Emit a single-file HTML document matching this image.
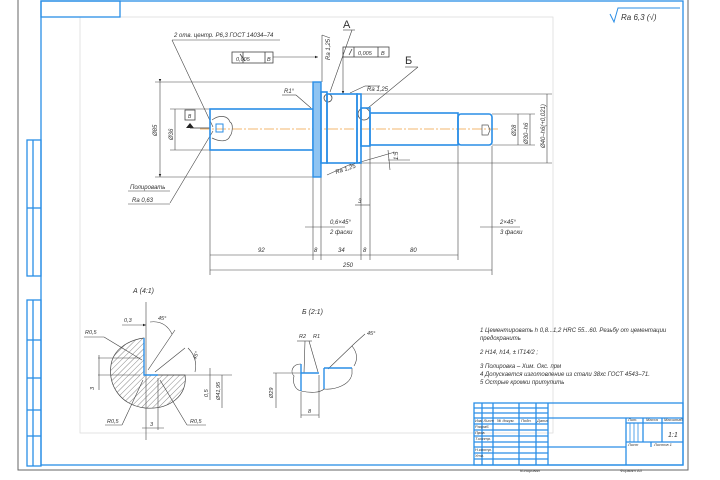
<!DOCTYPE html>
<html><head><meta charset="utf-8"><style>
html,body{margin:0;padding:0;background:#fff;}
svg{display:block;}
text{font-family:"Liberation Sans","DejaVu Sans",sans-serif;font-style:italic;fill:#333;}
</style></head><body>
<svg width="720" height="480" viewBox="0 0 720 480" xmlns="http://www.w3.org/2000/svg">
<defs>
<pattern id="h" width="4" height="4" patternUnits="userSpaceOnUse" patternTransform="rotate(45)">
<line x1="0" y1="0" x2="0" y2="4" stroke="#555" stroke-width="0.7"/></pattern>
<marker id="a" markerWidth="6" markerHeight="6" refX="5" refY="3" orient="auto"><path d="M0,1 L5,3 L0,5 Z" fill="#222"/></marker>
</defs>
<rect width="720" height="480" fill="#fff"/>
<!-- outer frame -->
<rect x="18" y="-2" width="670" height="472" fill="none" stroke="#666" stroke-width="1"/>
<rect x="80" y="17" width="473" height="416" fill="none" stroke="#ddd" stroke-width="0.8"/>
<g stroke="#2a8ee6" fill="none" stroke-width="1.3">
<rect x="41" y="1" width="642" height="464"/>
<rect x="41" y="1" width="79" height="16"/>
<rect x="27" y="140" width="14" height="136"/><line x1="33" y1="140" x2="33" y2="276"/><line x1="27" y1="208" x2="41" y2="208"/>
<rect x="27" y="300" width="14" height="166"/><line x1="33" y1="300" x2="33" y2="466"/>
<line x1="27" y1="340" x2="41" y2="340"/><line x1="27" y1="378" x2="41" y2="378"/><line x1="27" y1="410" x2="41" y2="410"/><line x1="27" y1="436" x2="41" y2="436"/>
<!-- title block -->
<rect x="474" y="403" width="209" height="62"/>
<line x1="482" y1="403" x2="482" y2="465"/><line x1="493" y1="403" x2="493" y2="465"/><line x1="519" y1="403" x2="519" y2="465"/><line x1="536" y1="403" x2="536" y2="465"/><line x1="548" y1="403" x2="548" y2="465"/>
<line x1="474" y1="408" x2="548" y2="408"/><line x1="474" y1="413" x2="548" y2="413"/><line x1="474" y1="418" x2="683" y2="418"/><line x1="474" y1="424" x2="548" y2="424"/><line x1="474" y1="430" x2="548" y2="430"/><line x1="474" y1="436" x2="548" y2="436"/><line x1="474" y1="442" x2="548" y2="442"/><line x1="474" y1="447" x2="626" y2="447"/><line x1="474" y1="453" x2="548" y2="453"/><line x1="474" y1="459" x2="548" y2="459"/>
<line x1="626" y1="418" x2="626" y2="465"/>
<line x1="626" y1="423" x2="683" y2="423"/><line x1="626" y1="442" x2="683" y2="442"/>
<line x1="643" y1="418" x2="643" y2="442"/><line x1="662" y1="418" x2="662" y2="442"/><line x1="651" y1="442" x2="651" y2="447"/>
<line x1="630" y1="423" x2="630" y2="442" stroke-width="0.8"/><line x1="634" y1="423" x2="634" y2="442" stroke-width="0.8"/><line x1="638" y1="423" x2="638" y2="442" stroke-width="0.8"/>
<!-- Ra symbol -->
<path d="M610,14 L614,22 L618,8 L680,8" stroke-width="1"/>
</g>
<text x="621" y="20" font-size="8" fill="#444">Ra 6,3 (√)</text>
<g font-size="4">
<text x="475" y="422">Изм Лист</text><text x="497" y="422">№ докум.</text><text x="521" y="422">Подп.</text><text x="537" y="422">Дата</text>
<text x="475" y="428">Разраб.</text><text x="475" y="434">Пров.</text><text x="475" y="440">Т.контр.</text><text x="475" y="451">Н.контр.</text><text x="475" y="457">Утв.</text>
<text x="628" y="421">Лит.</text><text x="646" y="421">Масса</text><text x="664" y="421">Масштаб</text>
<text x="628" y="446">Лист</text><text x="654" y="446">Листов 1</text>
<text x="520" y="472">Копировал</text><text x="620" y="472">Формат A3</text>
</g>
<text x="668" y="437" font-size="7">1:1</text>

<!-- center line -->
<line x1="200" y1="129" x2="500" y2="129" stroke="#f0a040" stroke-width="0.8" stroke-dasharray="10,2,2,2"/>
<!-- extension / dimension lines -->
<g stroke="#444" stroke-width="0.6" fill="none">
<line x1="155" y1="82" x2="313" y2="82"/><line x1="155" y1="177" x2="313" y2="177"/>
<line x1="170" y1="109" x2="210" y2="109"/><line x1="170" y1="150" x2="210" y2="150"/>
<line x1="160" y1="82" x2="160" y2="177" marker-start="url(#a)" marker-end="url(#a)"/>
<line x1="175" y1="109" x2="175" y2="150"/>
<line x1="361" y1="94" x2="552" y2="94"/><line x1="361" y1="163" x2="552" y2="163"/>
<line x1="492" y1="114" x2="535" y2="114"/><line x1="492" y1="145" x2="535" y2="145"/>
<line x1="518" y1="114" x2="518" y2="145"/><line x1="530" y1="114" x2="530" y2="145"/><line x1="547" y1="94" x2="547" y2="163"/>
<line x1="210" y1="150" x2="210" y2="275"/><line x1="313" y1="177" x2="313" y2="260"/><line x1="321" y1="177" x2="321" y2="260"/>
<line x1="361" y1="163" x2="361" y2="260"/><line x1="370" y1="146" x2="370" y2="260"/><line x1="458" y1="146" x2="458" y2="260"/><line x1="492" y1="146" x2="492" y2="275"/>
<line x1="210" y1="255" x2="458" y2="255"/><line x1="210" y1="270" x2="492" y2="270"/>
<line x1="355" y1="205" x2="370" y2="205"/><line x1="305" y1="227" x2="345" y2="227"/><line x1="480" y1="227" x2="520" y2="227"/>
<!-- leaders -->
<line x1="172" y1="40" x2="280" y2="40"/><line x1="172" y1="40" x2="213" y2="127"/>
<line x1="213" y1="131" x2="170" y2="203"/><line x1="128" y1="191" x2="170" y2="191"/><line x1="128" y1="204" x2="170" y2="204"/>
<line x1="273" y1="57" x2="318" y2="57" marker-end="url(#a)"/>
<line x1="343" y1="52" x2="343" y2="94" marker-end="url(#a)"/>
<line x1="322" y1="35" x2="322" y2="82"/><line x1="322" y1="35" x2="330" y2="38"/>
<line x1="352" y1="30" x2="330" y2="92"/><line x1="343" y1="30" x2="355" y2="30"/>
<line x1="418" y1="67" x2="368" y2="108"/><line x1="405" y1="67" x2="418" y2="67"/>
<line x1="282" y1="95" x2="296" y2="95"/><line x1="296" y1="95" x2="311" y2="108"/>
<line x1="350" y1="93" x2="365" y2="86"/><line x1="365" y1="86" x2="380" y2="86"/>
<line x1="327" y1="175" x2="351" y2="164"/><line x1="350" y1="165" x2="395" y2="152"/><line x1="388" y1="150" x2="390" y2="170"/>
<line x1="388" y1="160" x2="410" y2="160"/>
</g>
<g fill="none" stroke="#444" stroke-width="0.8">
<circle cx="328" cy="98" r="4"/><circle cx="364" cy="114" r="6"/>
<rect x="232" y="52" width="41" height="11"/><line x1="243" y1="52" x2="243" y2="63"/><line x1="265" y1="52" x2="265" y2="63"/>
<rect x="343" y="47" width="46" height="10"/><line x1="354" y1="47" x2="354" y2="57"/><line x1="378" y1="47" x2="378" y2="57"/>
<rect x="185" y="110" width="10" height="10"/>
<path d="M245,61 L240,54 M349,55 L352,49"/>
</g>
<path d="M186,128 L190,123 L194,128 Z" fill="#222"/><line x1="190" y1="128" x2="210" y2="128" stroke="#333" stroke-width="0.7"/>
<!-- shaft -->
<g stroke="#2a8ee6" fill="none" stroke-width="1.6">
<rect x="210" y="109" width="103" height="41"/>
<rect x="313" y="82" width="8" height="95" fill="#8fc4f2" stroke-width="1.4"/>
<rect x="321" y="92" width="6" height="71"/>
<rect x="327" y="94" width="30" height="69"/>
<rect x="357" y="94" width="4" height="69"/>
<rect x="361" y="108" width="9" height="38"/>
<rect x="370" y="113" width="88" height="32"/>
<rect x="458" y="114" width="34" height="31" rx="3"/>
<rect x="216" y="124" width="7" height="8" stroke-width="1"/>
</g>
<path d="M212,120 C220,114 228,116 230,122 C234,124 232,134 230,136 C228,142 220,142 212,138" fill="none" stroke="#555" stroke-width="0.7"/>
<path d="M482,125 L488,125 L490,130 L488,135 L482,135 Z" fill="none" stroke="#555" stroke-width="0.7"/>
<!-- dimension texts -->
<g font-size="6">
<text x="174" y="37">2 отв. центр. Р6,3 ГОСТ 14034–74</text>
<text x="130" y="189">Полировать</text><text x="132" y="202">Ra 0,63</text>
<text x="236" y="61" font-size="5.5">0,005</text><text x="267" y="61" font-size="5.5">B</text>
<text x="358" y="55" font-size="5.5">0,005</text><text x="381" y="55" font-size="5.5">B</text>
<text x="188" y="118" font-size="5" fill="#2a5ed6">B</text>
<text x="284" y="93">R1°</text>
<text x="367" y="91">Ra 1,25</text>
<text x="336" y="174" transform="rotate(-18 336 174)">Ra 1,25</text>
<text x="398" y="160" transform="rotate(-90 398 160)">1:5</text>
<text x="258" y="252">92</text><text x="314" y="252">8</text><text x="338" y="252">34</text><text x="363" y="252">8</text><text x="410" y="252">80</text>
<text x="343" y="267">250</text>
<text x="358" y="203">3</text>
<text x="330" y="224">0,6×45°</text><text x="330" y="234">2 фаски</text>
<text x="500" y="224">2×45°</text><text x="500" y="234">3 фаски</text>
<text x="157" y="136" transform="rotate(-90 157 136)">Ø85</text>
<text x="173" y="140" transform="rotate(-90 173 140)">Ø36</text>
<text x="516" y="136" transform="rotate(-90 516 136)">Ø28</text>
<text x="528" y="144" transform="rotate(-90 528 144)">Ø30–h6</text>
<text x="545" y="148" transform="rotate(-90 545 148)">Ø40–h6(+0,021)</text>
<text x="330" y="60" transform="rotate(-90 330 60)">Ra 1,25</text>
</g>
<text x="343" y="28" font-size="11" fill="#2a5ed6" style="font-style:normal">А</text>
<text x="405" y="64" font-size="11" fill="#2a5ed6" style="font-style:normal">Б</text>

<!-- Section A -->
<path d="M144,338 L144,375 L185,375 C188,395 170,410 145,408 C120,405 108,385 111,365 C113,350 128,340 144,338 Z" fill="url(#h)" stroke="#444" stroke-width="0.7"/>
<g stroke="#444" stroke-width="0.6" fill="none">
<line x1="146" y1="302" x2="146" y2="440"/>
<line x1="122" y1="325" x2="146" y2="325" marker-end="url(#a)"/>
<path d="M150,322 Q165,320 172,334"/><line x1="148" y1="370" x2="175" y2="330"/>
<line x1="155" y1="372" x2="185" y2="348"/><path d="M188,348 Q198,358 195,372"/>
<line x1="150" y1="375" x2="232" y2="375"/>
<line x1="84" y1="337" x2="104" y2="337"/><line x1="104" y1="337" x2="142" y2="360"/>
<line x1="98" y1="358" x2="140" y2="358"/><line x1="98" y1="375" x2="140" y2="375"/><line x1="99" y1="355" x2="99" y2="390"/>
<line x1="210" y1="368" x2="210" y2="400"/><line x1="222" y1="375" x2="222" y2="408"/>
<line x1="105" y1="425" x2="122" y2="425"/><line x1="122" y1="425" x2="143" y2="380"/>
<line x1="187" y1="425" x2="206" y2="425"/><line x1="187" y1="425" x2="160" y2="380"/>
<line x1="158" y1="378" x2="158" y2="430"/><line x1="142" y1="428" x2="164" y2="428"/>
</g>
<path d="M144,338 L144,375 L158,375" fill="none" stroke="#2a8ee6" stroke-width="1.4"/>
<g font-size="5.5">
<text x="133" y="293" font-size="7">А (4:1)</text>
<text x="124" y="322">0,3</text><text x="158" y="320">45°</text>
<text x="85" y="334">R0,5</text><text x="196" y="360" transform="rotate(-70 196 360)">45°</text>
<text x="94" y="390" transform="rotate(-90 94 390)">3</text>
<text x="208" y="397" transform="rotate(-90 208 397)">0,5</text>
<text x="220" y="400" transform="rotate(-90 220 400)">Ø41,95</text>
<text x="107" y="423">R0,5</text><text x="190" y="423">R0,5</text><text x="150" y="426">3</text>
</g>
<!-- Section B -->
<g stroke="#444" stroke-width="0.6" fill="none">
<path d="M301,364 C292,364 290,372 294,376 C292,384 296,390 301,391 C310,393 320,393 324,389 C335,390 350,385 352,374 L352,368"/>
<line x1="273" y1="373" x2="301" y2="373"/><line x1="276" y1="373" x2="276" y2="408"/>
<line x1="301" y1="392" x2="301" y2="418"/><line x1="319" y1="375" x2="319" y2="418"/><line x1="301" y1="415" x2="319" y2="415"/>
<line x1="297" y1="341" x2="312" y2="341"/><line x1="305" y1="341" x2="304" y2="373"/><line x1="309" y1="341" x2="318" y2="372"/>
<line x1="328" y1="369" x2="355" y2="343"/><line x1="355" y1="343" x2="365" y2="334"/><path d="M352,346 Q360,356 354,366"/>
</g>
<g stroke="#2a8ee6" stroke-width="1.4" fill="none">
<line x1="301" y1="364" x2="301" y2="391"/><line x1="301" y1="373" x2="319" y2="373"/>
<line x1="324" y1="368" x2="324" y2="389"/><line x1="324" y1="368" x2="352" y2="368"/>
</g>
<g font-size="5.5">
<text x="302" y="314" font-size="7">Б (2:1)</text>
<text x="299" y="338">R2</text><text x="313" y="338">R1</text><text x="367" y="335">45°</text>
<text x="273" y="398" transform="rotate(-90 273 398)">Ø29</text><text x="308" y="413">8</text>
</g>
<!-- notes -->
<g font-size="6" fill="#444">
<text x="480" y="332">1 Цементировать h 0,8...1,2  HRC 55...60. Резьбу от цементации</text>
<text x="480" y="340">предохранить</text>
<text x="480" y="354">2 H14, h14, ± IT14/2 ;</text>
<text x="480" y="368">3  Полировка – Хим. Окс. прм</text>
<text x="480" y="376">4  Допускается изготовление из стали 38хс ГОСТ 4543–71.</text>
<text x="480" y="384">5 Острые кромки притупить</text>
</g>
</svg>
</body></html>
